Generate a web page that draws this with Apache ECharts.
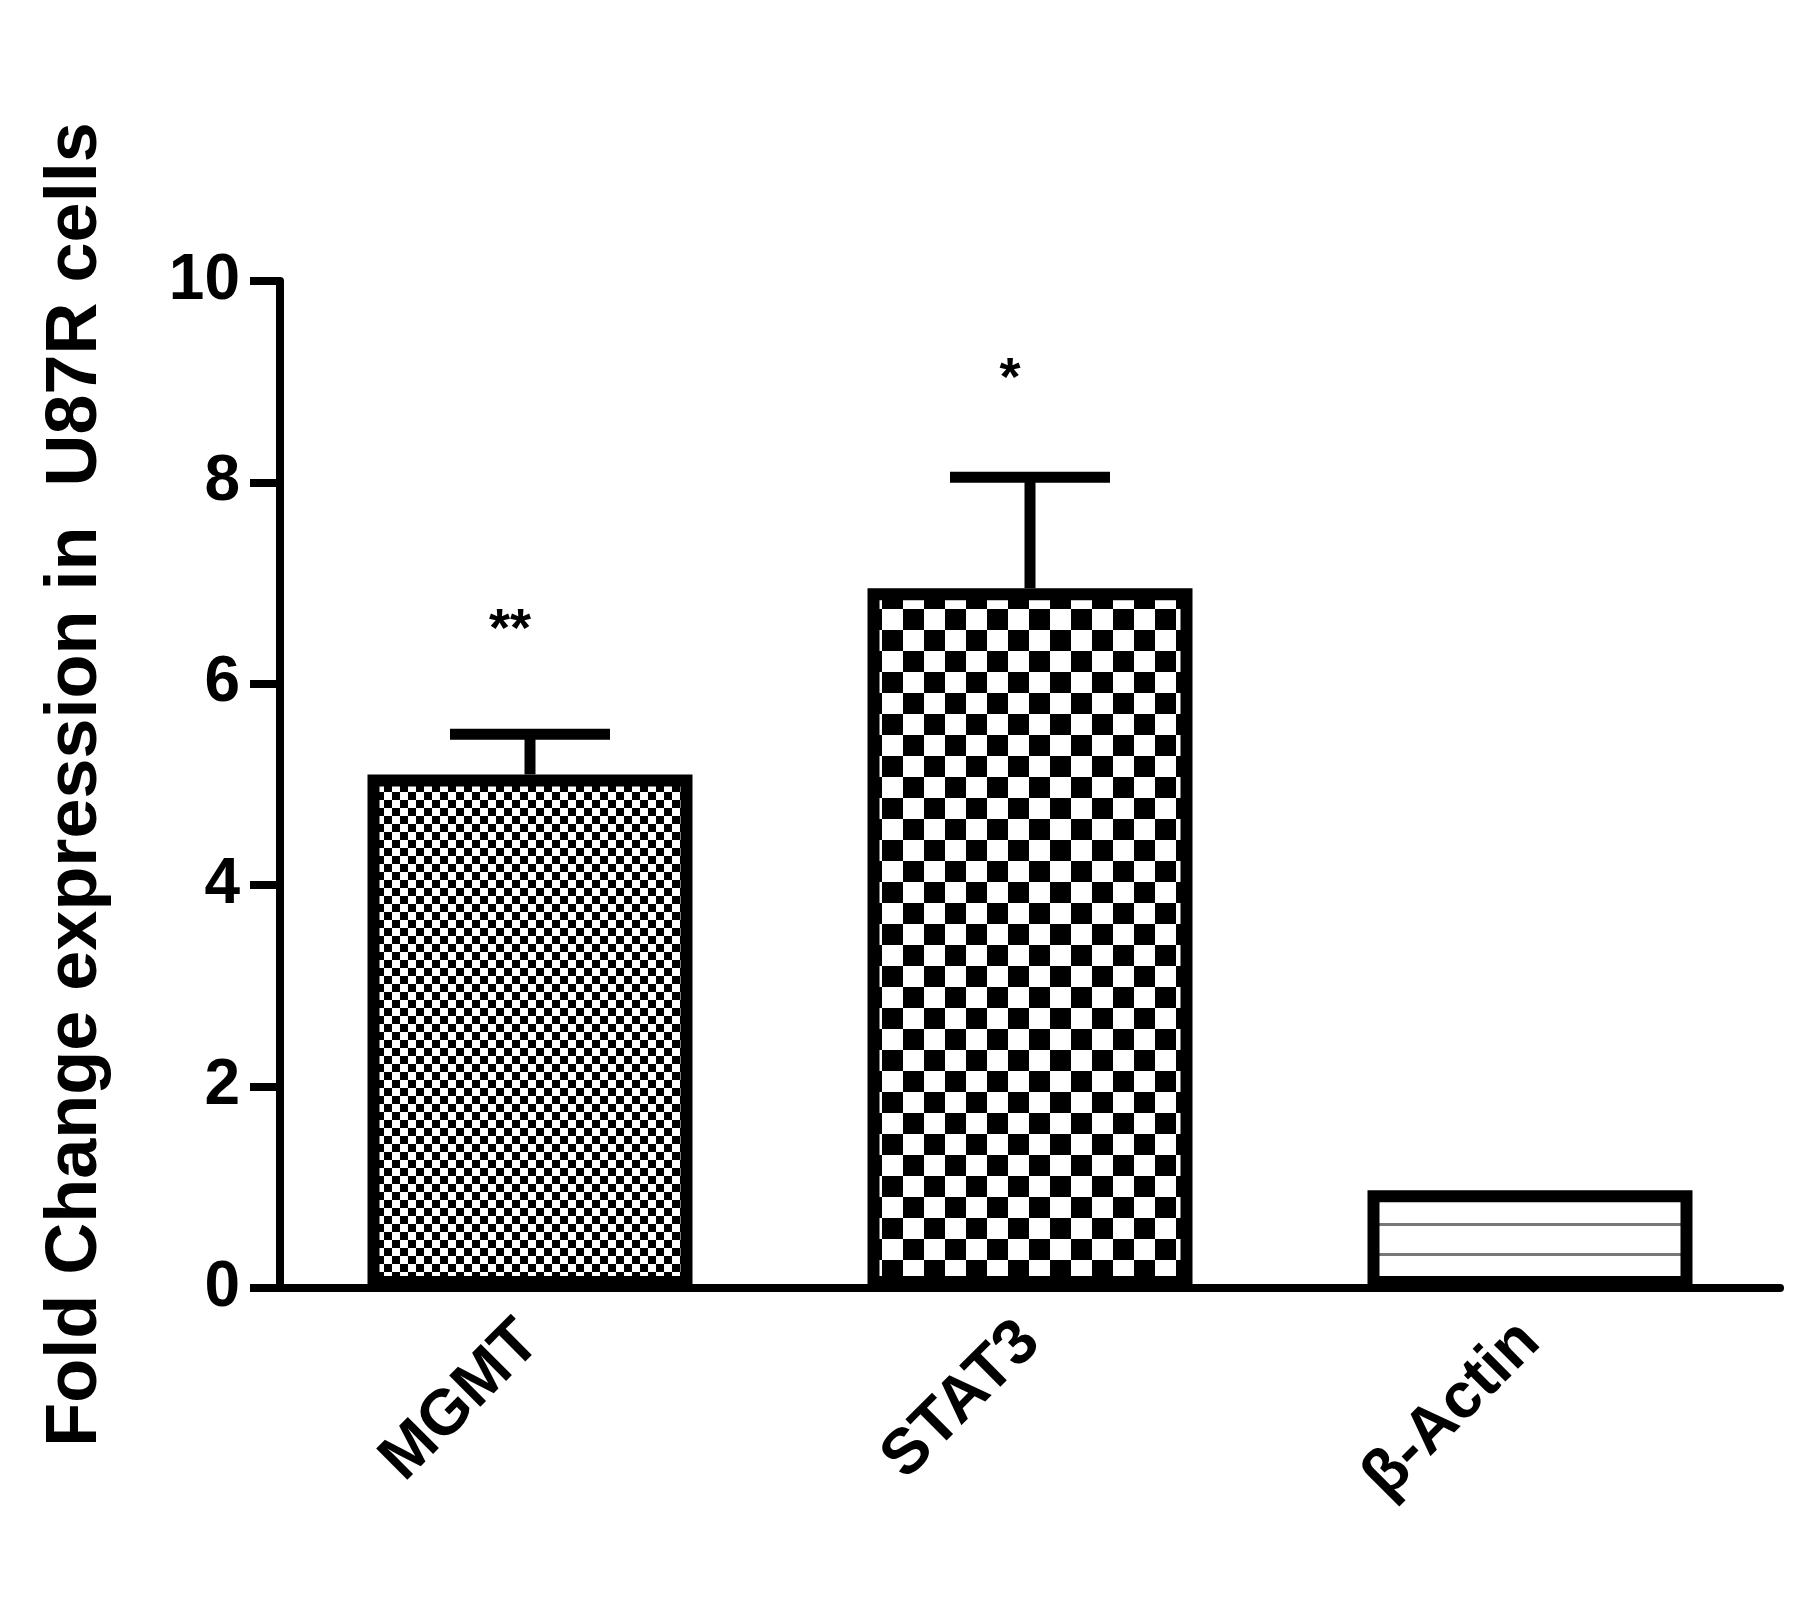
<!DOCTYPE html>
<html>
<head>
<meta charset="utf-8">
<script src="https://cdn.jsdelivr.net/npm/echarts@6/dist/echarts.min.js"></script>
<style>html,body{margin:0;background:#fff}#c{width:1816px;height:1598px}</style>
</head>
<body>
<div id="c"></div>
<script>
var categories = ['MGMT', 'STAT3', 'β-Actin'];
var values = [5.1, 6.95, 0.97];
var errors = [0.4, 1.1, 0];
var stars = ['**', '*', ''];
var starY = [6.6, 9.1, 0];
var yTicks = [0, 2, 4, 6, 8, 10];

// checker pattern tiles
function checker(cell) {
  var c = document.createElement('canvas');
  c.width = c.height = cell * 2;
  var g = c.getContext('2d');
  g.fillStyle = '#fff'; g.fillRect(0, 0, cell * 2, cell * 2);
  g.fillStyle = '#000';
  g.fillRect(0, 0, cell, cell);
  g.fillRect(cell, cell, cell, cell);
  return c;
}
function stripes() {
  var c = document.createElement('canvas');
  c.width = 10; c.height = 30;
  var g = c.getContext('2d');
  g.fillStyle = '#fff'; g.fillRect(0, 0, 10, 30);
  g.fillStyle = '#777'; g.fillRect(0, 23, 10, 3);
  return c;
}
var fills = [
  { image: checker(8), repeat: 'repeat' },
  { image: checker(21), repeat: 'repeat' },
  { image: stripes(), repeat: 'repeat' }
];

var chart = echarts.init(document.getElementById('c'));
var font = 'Arial, "Liberation Sans", sans-serif';

chart.setOption({
  animation: false,
  grid: { left: 280, right: 36, top: 281, bottom: 310, containLabel: false },
  xAxis: {
    type: 'category',
    data: categories,
    axisLine: { lineStyle: { color: '#000', width: 8 } },
    axisTick: { alignWithLabel: true, length: 30, lineStyle: { color: '#000', width: 8 } },
    axisLabel: { rotate: 45, margin: 44, color: '#000', fontSize: 64, fontWeight: 'bold', fontFamily: font }
  },
  yAxis: {
    type: 'value', min: 0, max: 10, interval: 2,
    name: 'Fold Change expression in  U87R cells',
    nameLocation: 'middle', nameGap: 168, nameRotate: 90,
    nameTextStyle: { color: '#000', fontSize: 72, fontWeight: 'bold', fontFamily: font },
    axisLine: { show: true, lineStyle: { color: '#000', width: 8 } },
    axisTick: { show: true, length: 30, lineStyle: { color: '#000', width: 8 } },
    axisLabel: { margin: 40, color: '#000', fontSize: 64, fontWeight: 'bold', fontFamily: font,
      formatter: function (v) { return yTicks.indexOf(v) >= 0 ? v : ''; } },
    splitLine: { show: false }
  },
  series: [
    {
      type: 'bar',
      barWidth: '65%',
      data: values.map(function (v, i) {
        return { value: v, itemStyle: { color: fills[i], borderColor: '#000', borderWidth: 12 } };
      }),
      z: 2
    },
    {
      type: 'custom',
      z: 1,
      data: values.map(function (v, i) { return [i, v, v + errors[i]]; }),
      renderItem: function (params, api) {
        if (errors[params.dataIndex] <= 0) return null;
        var b = api.coord([api.value(0), api.value(1)]);
        var t = api.coord([api.value(0), api.value(2)]);
        var half = api.size([1, 0])[0] * 0.16;
        var st = { stroke: '#000', lineWidth: 11 };
        return { type: 'group', children: [
          { type: 'line', shape: { x1: b[0], y1: b[1], x2: t[0], y2: t[1] }, style: st },
          { type: 'line', shape: { x1: t[0] - half, y1: t[1], x2: t[0] + half, y2: t[1] }, style: st }
        ] };
      }
    },
    {
      type: 'custom',
      data: starY.map(function (y, i) { return [i, y]; }),
      renderItem: function (params, api) {
        var s = stars[params.dataIndex];
        if (!s) return null;
        var p = api.coord([api.value(0), api.value(1)]);
        return { type: 'text', style: { x: p[0] - 20, y: p[1] + 8, text: s, fill: '#000',
          font: 'bold 54px ' + font, align: 'center', verticalAlign: 'middle' } };
      }
    }
  ]
});
</script>
</body>
</html>
